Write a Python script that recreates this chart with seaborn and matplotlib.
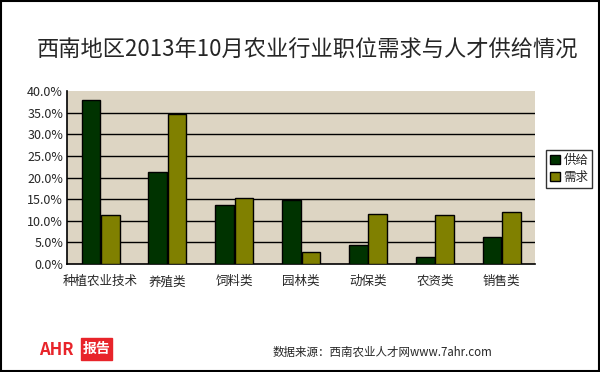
import matplotlib
matplotlib.use("Agg")
import matplotlib.pyplot as plt
import seaborn as sns
import pandas as pd
from matplotlib.ticker import PercentFormatter
from matplotlib.patches import Rectangle

categories = ["种植农业技术", "养殖类", "饲料类", "园林类", "动保类", "农资类", "销售类"]
supply = [37.9, 21.2, 13.6, 14.8, 4.4, 1.6, 6.2]
demand = [11.3, 34.8, 15.4, 2.9, 11.7, 11.3, 12.0]
series = ["供给", "需求"]
yticks = [0, 5, 10, 15, 20, 25, 30, 35, 40]

df = pd.DataFrame({
    "cat": categories * 2,
    "val": supply + demand,
    "s": [series[0]] * len(categories) + [series[1]] * len(categories),
})

sns.set_style("white")
plt.rcParams["font.family"] = ["Noto Sans CJK SC", "DejaVu Sans"]

fig = plt.figure(figsize=(6, 3.72), dpi=100)
ax = fig.add_axes([0.112, 0.29, 0.78, 0.465])
ax.set_facecolor("#ddd5c3")

sns.barplot(data=df, x="cat", y="val", hue="s", ax=ax,
            palette=["#003300", "#808000"], width=0.58, gap=0.04,
            edgecolor="black", linewidth=1, saturation=1, zorder=3)

ax.set_ylim(0, 40)
ax.set_xlim(-0.5, len(categories) - 0.5)
ax.set_yticks(yticks)
ax.yaxis.set_major_formatter(PercentFormatter(decimals=1))
for t in yticks[1:-1]:
    ax.axhline(t, color="black", lw=1, zorder=1)
ax.set_xticks([i + 0.5 for i in range(len(categories) - 1)], minor=True)
ax.tick_params(axis="x", which="minor", length=4, direction="in", color="black")
ax.tick_params(axis="x", which="major", length=0, labelsize=9, pad=8)
ax.tick_params(axis="y", length=0, labelsize=9, pad=3)
ax.set_xlabel("")
ax.set_ylabel("")
for side in ["top", "right"]:
    ax.spines[side].set_visible(False)
for side in ["left", "bottom"]:
    ax.spines[side].set_color("black")
    ax.spines[side].set_linewidth(1.2)

leg = ax.legend(title=None, loc="center left", bbox_to_anchor=(1.01, 0.55),
                frameon=True, fancybox=False, fontsize=9, handlelength=0.8,
                handletextpad=0.3, borderpad=0.3, labelspacing=0.3)
leg.get_frame().set_edgecolor("black")
leg.get_frame().set_linewidth(1)

fig.text(0.513, 0.865, "西南地区2013年10月农业行业职位需求与人才供给情况",
         ha="center", va="center", fontsize=16)
fig.text(0.455, 0.053, "数据来源：西南农业人才网www.7ahr.com",
         ha="left", va="center", fontsize=8.3)
fig.text(0.065, 0.06, "AHR", ha="left", va="center", fontsize=12,
         color="#e8242a", fontweight="bold", style="italic")
fig.patches.append(Rectangle((0.135, 0.032), 0.052, 0.06, transform=fig.transFigure,
                             color="#e8242a", zorder=1))
fig.text(0.161, 0.061, "报告", ha="center", va="center", fontsize=10,
         color="white", fontweight="bold", zorder=2)
fig.patches.append(Rectangle((0.001, 0.002), 0.997, 0.995, transform=fig.transFigure,
                             fill=False, edgecolor="black", lw=1.5))

fig.savefig("out.png", dpi=100)
